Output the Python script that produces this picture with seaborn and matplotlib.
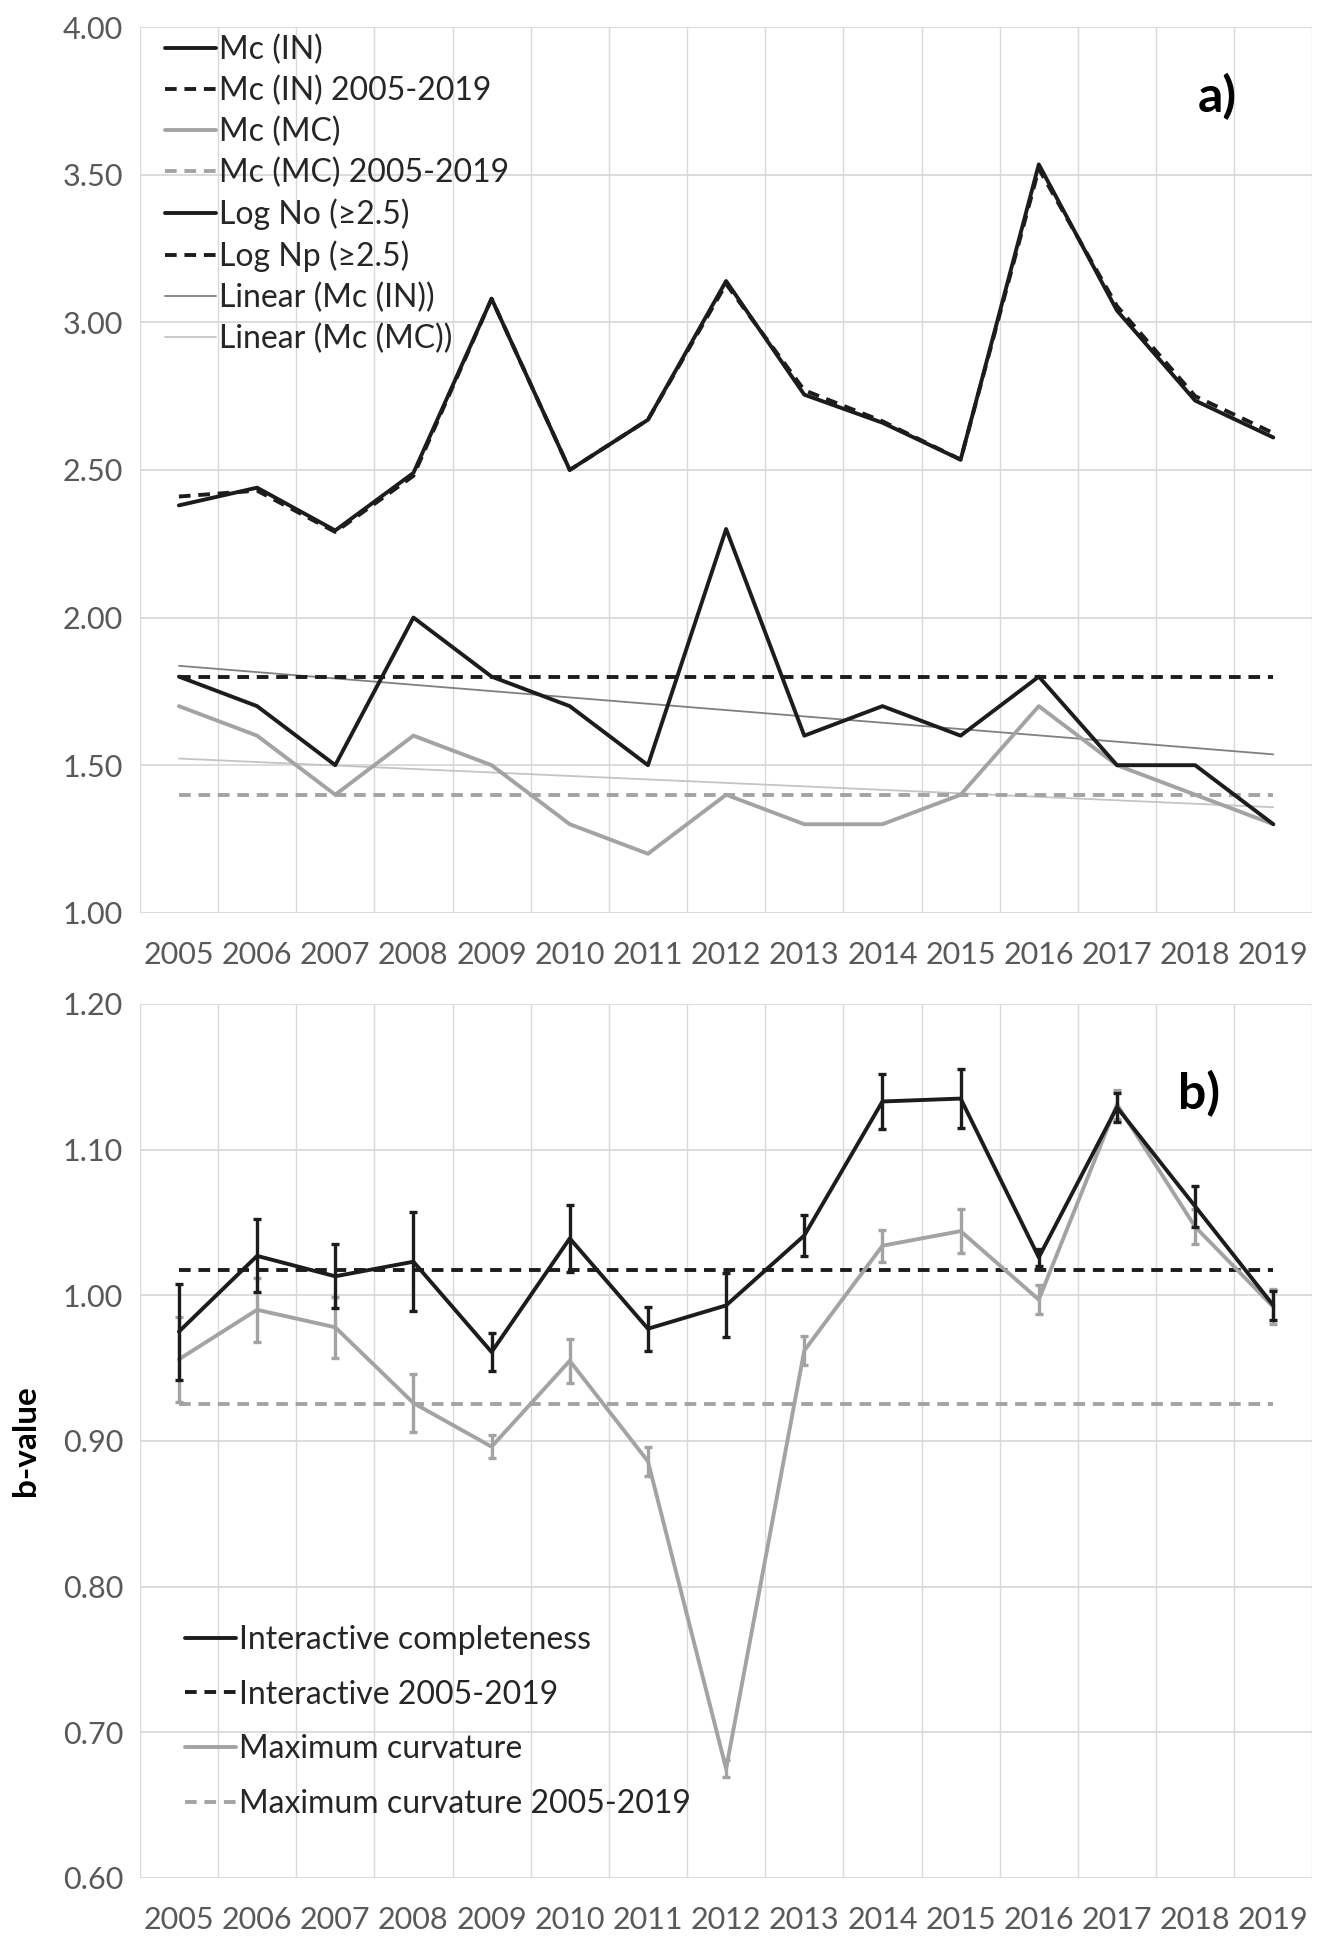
import numpy as np
import pandas as pd
import matplotlib
matplotlib.use("Agg")
import matplotlib.pyplot as plt
from matplotlib.lines import Line2D
import seaborn as sns

# ---- data -------------------------------------------------------------
years = list(range(2005, 2020))

# panel a: completeness magnitude and log event counts
mc_in = [1.8, 1.7, 1.5, 2.0, 1.8, 1.7, 1.5, 2.3, 1.6, 1.7, 1.6, 1.8, 1.5, 1.5, 1.3]
mc_mc = [1.7, 1.6, 1.4, 1.6, 1.5, 1.3, 1.2, 1.4, 1.3, 1.3, 1.4, 1.7, 1.5, 1.4, 1.3]
mc_in_all = 1.80
mc_mc_all = 1.40
log_no = [2.38, 2.44, 2.295, 2.49, 3.08, 2.50, 2.67, 3.14, 2.755, 2.66, 2.535, 3.535, 3.04, 2.735, 2.61]
log_np = [2.41, 2.43, 2.29, 2.48, 3.08, 2.50, 2.67, 3.13, 2.77, 2.665, 2.535, 3.52, 3.055, 2.75, 2.625]

# panel b: b-values with uncertainties
b_in = [0.975, 1.027, 1.013, 1.023, 0.961, 1.039, 0.977, 0.993, 1.041, 1.133, 1.135, 1.026, 1.129, 1.061, 0.993]
b_in_err = [0.033, 0.025, 0.022, 0.034, 0.013, 0.023, 0.015, 0.022, 0.014, 0.019, 0.020, 0.006, 0.010, 0.014, 0.010]
b_mc = [0.956, 0.990, 0.978, 0.926, 0.896, 0.955, 0.886, 0.675, 0.962, 1.034, 1.044, 0.997, 1.131, 1.047, 0.992]
b_mc_err = [0.029, 0.022, 0.021, 0.020, 0.008, 0.015, 0.010, 0.006, 0.010, 0.011, 0.015, 0.010, 0.010, 0.012, 0.012]
b_in_all = 1.017
b_mc_all = 0.925

# ---- style ------------------------------------------------------------
sns.set_theme(style="white")
plt.rcParams["font.family"] = ["Lato", "DejaVu Sans"]

BLACK = "#1c1c1c"
GREY = "#a3a3a3"
DGREY = "#808080"
LGREY = "#c4c4c4"
GRID = "#d9d9d9"
TICK = "#595959"
FS_TICK = 22
FS_LEG = 23
DASH = (0, (3, 2))

fig = plt.figure(figsize=(13.19, 19.38), dpi=100)
ax_a = fig.add_axes([0.106, 0.529, 0.889, 0.457])
ax_b = fig.add_axes([0.106, 0.031, 0.889, 0.451])

df_a = pd.DataFrame({
    "year": years, "mc_in": mc_in, "mc_mc": mc_mc,
    "mc_in_all": [mc_in_all] * len(years), "mc_mc_all": [mc_mc_all] * len(years),
    "log_no": log_no, "log_np": log_np,
})
df_b = pd.DataFrame({
    "year": years, "b_in": b_in, "b_mc": b_mc,
    "b_in_all": [b_in_all] * len(years), "b_mc_all": [b_mc_all] * len(years),
})


def style_axes(ax, ylim, yticks):
    ax.set_xlim(2004.5, 2019.5)
    ax.set_ylim(*ylim)
    ax.set_yticks(yticks)
    ax.set_yticklabels([f"{v:.2f}" for v in yticks])
    ax.set_xticks(years)
    ax.set_xticklabels([str(y) for y in years])
    ax.set_xticks(np.arange(2004.5, 2020.0, 1.0), minor=True)
    ax.grid(True, which="major", axis="y", color=GRID, lw=1.3)
    ax.grid(True, which="minor", axis="x", color=GRID, lw=1.0)
    ax.grid(False, which="major", axis="x")
    for s in ax.spines.values():
        s.set_visible(False)
    ax.tick_params(axis="both", which="both", length=0, labelsize=FS_TICK, colors=TICK)
    ax.tick_params(axis="x", pad=20)
    ax.tick_params(axis="y", pad=12)
    ax.set_xlabel("")
    ax.set_ylabel("")
    ax.set_axisbelow(True)


# ---- panel a ----------------------------------------------------------
style_axes(ax_a, (1.0, 4.0), np.arange(1.0, 4.01, 0.5))

sns.regplot(data=df_a, x="year", y="mc_in", ax=ax_a, scatter=False, ci=None,
            line_kws=dict(color=DGREY, lw=1.3))
sns.regplot(data=df_a, x="year", y="mc_mc", ax=ax_a, scatter=False, ci=None,
            line_kws=dict(color=LGREY, lw=1.3))
sns.lineplot(data=df_a, x="year", y="mc_mc_all", ax=ax_a, color=GREY, lw=2.8, linestyle=DASH)
sns.lineplot(data=df_a, x="year", y="mc_mc", ax=ax_a, color=GREY, lw=2.8)
sns.lineplot(data=df_a, x="year", y="mc_in_all", ax=ax_a, color=BLACK, lw=2.8, linestyle=DASH)
sns.lineplot(data=df_a, x="year", y="mc_in", ax=ax_a, color=BLACK, lw=2.8)
sns.lineplot(data=df_a, x="year", y="log_np", ax=ax_a, color=BLACK, lw=2.8, linestyle=DASH)
sns.lineplot(data=df_a, x="year", y="log_no", ax=ax_a, color=BLACK, lw=2.8)
ax_a.set_xlabel("")
ax_a.set_ylabel("")

handles_a = [
    Line2D([], [], color=BLACK, lw=2.8),
    Line2D([], [], color=BLACK, lw=2.8, linestyle=DASH),
    Line2D([], [], color=GREY, lw=2.8),
    Line2D([], [], color=GREY, lw=2.8, linestyle=DASH),
    Line2D([], [], color=BLACK, lw=2.8),
    Line2D([], [], color=BLACK, lw=2.8, linestyle=DASH),
    Line2D([], [], color=DGREY, lw=1.3),
    Line2D([], [], color=LGREY, lw=1.3),
]
labels_a = ["Mc (IN)", "Mc (IN) 2005-2019", "Mc (MC)", "Mc (MC) 2005-2019",
            "Log No (\u22652.5)", "Log Np (\u22652.5)", "Linear (Mc (IN))", "Linear (Mc (MC))"]
ax_a.legend(handles_a, labels_a, loc="upper left", bbox_to_anchor=(0.0105, 1.006),
            frameon=False, fontsize=FS_LEG, handlelength=1.6, handletextpad=0.1,
            labelspacing=0.33, borderaxespad=0.0)
ax_a.text(0.919, 0.922, "a)", transform=ax_a.transAxes, fontsize=36,
          fontweight="bold", ha="center", va="center", color="black")

# ---- panel b ----------------------------------------------------------
style_axes(ax_b, (0.6, 1.2), np.arange(0.6, 1.201, 0.1))

sns.lineplot(data=df_b, x="year", y="b_mc_all", ax=ax_b, color=GREY, lw=2.8, linestyle=DASH)
sns.lineplot(data=df_b, x="year", y="b_in_all", ax=ax_b, color=BLACK, lw=2.8, linestyle=DASH)
sns.lineplot(data=df_b, x="year", y="b_mc", ax=ax_b, color=GREY, lw=2.8)
ax_b.errorbar(years, b_mc, yerr=b_mc_err, fmt="none", ecolor=GREY, elinewidth=2.4,
              capsize=3, capthick=2.4)
sns.lineplot(data=df_b, x="year", y="b_in", ax=ax_b, color=BLACK, lw=2.8)
ax_b.errorbar(years, b_in, yerr=b_in_err, fmt="none", ecolor=BLACK, elinewidth=2.4,
              capsize=3, capthick=2.4)
ax_b.set_xlabel("")
ax_b.set_ylabel("b-value", fontsize=24, fontweight="bold", color="black")
ax_b.yaxis.set_label_coords(-0.085, 0.5)

handles_b = [
    Line2D([], [], color=BLACK, lw=2.8),
    Line2D([], [], color=BLACK, lw=2.8, linestyle=DASH),
    Line2D([], [], color=GREY, lw=2.8),
    Line2D([], [], color=GREY, lw=2.8, linestyle=DASH),
]
labels_b = ["Interactive completeness", "Interactive 2005-2019",
            "Maximum curvature", "Maximum curvature 2005-2019"]
ax_b.legend(handles_b, labels_b, loc="upper left", bbox_to_anchor=(0.0275, 0.304),
            frameon=False, fontsize=FS_LEG, handlelength=1.6, handletextpad=0.1,
            labelspacing=0.77, borderaxespad=0.0)
ax_b.text(0.903, 0.897, "b)", transform=ax_b.transAxes, fontsize=36,
          fontweight="bold", ha="center", va="center", color="black")

fig.savefig("out.png", dpi=100, facecolor="white")
